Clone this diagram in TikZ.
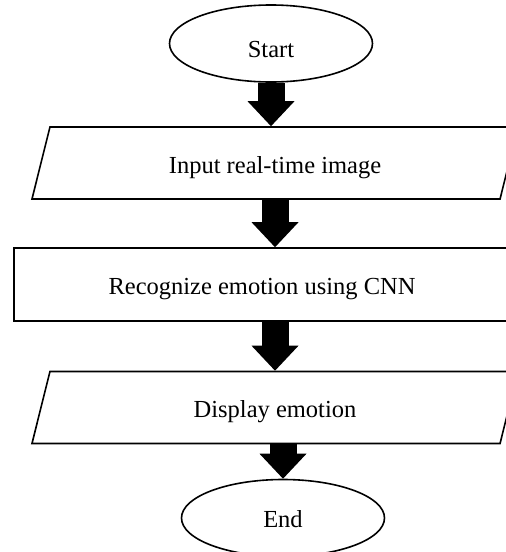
\documentclass[tikz,border=0pt]{standalone}
\usepackage{fontspec}
\setmainfont{Liberation Serif}
\usepackage{tikz}
\usetikzlibrary{arrows.meta}
\usetikzlibrary{shapes.geometric}

\tikzset{
  term/.style={draw, ellipse, line width=1.6pt, minimum width=203pt, minimum height=77pt, inner sep=0pt},
  io/.style={draw, trapezium, trapezium left angle=76, trapezium right angle=104,
    trapezium stretches body=true, line width=1.6pt, minimum width=486pt,
    text height=46pt, text depth=26pt, inner sep=0pt},
  proc/.style={draw, rectangle, line width=1.6pt, minimum width=496pt, minimum height=73pt, inner sep=0pt},
  bigarrow/.style={line width=27pt, -{Triangle[length=25pt, width=47pt, line width=0pt]}}
}

\begin{document}
\begin{tikzpicture}[x=1pt, y=-1pt, font=\fontsize{24.5}{29}\selectfont, text height=19pt, text depth=0pt]
\useasboundingbox (0,0) rectangle (506,552);
% flow boxes
\node[term, text height=28pt] (start) at (271,43.5) {Start};
\node[io] (inp) at (275,163) {Input real-time image};
\node[proc] (cnn) at (262,284.5) {Recognize emotion using CNN};
\node[io] (disp) at (275,407.5) {Display emotion};
\node[term] (stop) at (283,518) {End};
% block arrows between the boxes
\draw[bigarrow] (start.south) -- (start.south |- inp.north);
\draw[bigarrow] (inp.south) -- (inp.south |- cnn.north);
\draw[bigarrow] (disp.north |- cnn.south) -- (disp.north);
\draw[bigarrow] (stop.north |- disp.south) -- (stop.north);
\end{tikzpicture}
\end{document}
